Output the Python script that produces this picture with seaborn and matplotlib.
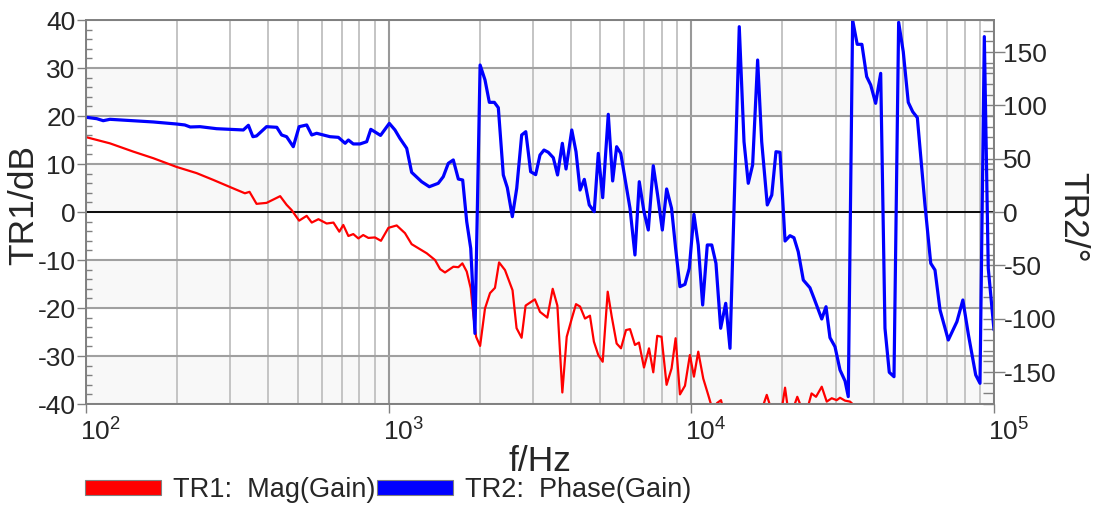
import pandas as pd
import matplotlib
matplotlib.use('Agg')
import matplotlib.pyplot as plt
import matplotlib.ticker as mticker
import matplotlib.transforms as mtrans
from matplotlib.patches import Patch
import seaborn as sns

# --- Data: TR1 magnitude (dB) ---
mag_freq = [100, 120, 143, 167, 199, 232, 263, 307, 335, 347, 366, 395, 438, 460, 478,
            506, 536, 557, 586, 624, 657, 687, 708, 736, 764, 794, 824, 857, 901, 943,
            998, 1063, 1132, 1191, 1336, 1423, 1479, 1535, 1636, 1699, 1752, 1811, 1867,
            1905, 1945, 2005, 2081, 2162, 2245, 2316, 2423, 2566, 2646, 2749, 2834, 3041,
            3162, 3343, 3483, 3609, 3748, 3875, 4027, 4159, 4289, 4453, 4624, 4765, 4927,
            5095, 5293, 5458, 5665, 5856, 6083, 6272, 6512, 6714, 6975, 7247, 7486, 7716,
            7971, 8284, 8604, 8873, 9170, 9527, 9890, 10200, 10540, 10950, 11370, 11790,
            12160, 12530, 12920, 14490, 16230, 17120, 17750, 18340, 19330, 19900, 20400,
            20850, 21330, 21830, 22390, 23030, 23550, 24270, 24960, 25820, 26970, 28010,
            29100, 30220, 30990, 32200, 33440, 34750, 38910, 100000]
mag_db = [15.6, 14.3, 12.6, 11.2, 9.4, 8.1, 6.7, 4.9, 3.9, 4.2, 1.7, 1.9, 3.3, 1.5, 0.4,
          -1.8, -0.8, -2.2, -1.5, -2.4, -2.2, -4.1, -2.7, -5.0, -4.6, -5.5, -4.8, -5.4, -5.3, -6.0,
          -3.3, -2.8, -4.4, -6.7, -8.6, -10.0, -11.9, -12.6, -11.4, -11.5, -10.7, -12.4, -15.9,
          -21.5, -26.0, -27.9, -20.1, -16.9, -15.8, -10.5, -12.1, -16.3, -24.2, -26.2, -19.5, -18.2,
          -20.8, -22.0, -16.0, -19.5, -37.6, -26.0, -22.2, -19.2, -19.7, -22.2, -21.6, -27.0, -29.8,
          -31.2, -16.6, -21.8, -27.4, -28.4, -24.6, -24.4, -27.7, -27.2, -32.4, -28.4, -33.4, -25.8,
          -26.0, -36.0, -32.6, -26.3, -38.0, -36.2, -29.8, -34.3, -29.1, -34.7, -38.1, -41.5,
          -39.8, -39.2, -42.5, -44.0, -44.0, -41.0, -38.1, -41.0, -43.0, -41.0, -36.6,
          -41.0, -41.5, -40.5, -38.5, -40.5, -40.8, -40.6, -37.8, -38.5, -36.4, -39.5,
          -38.8, -39.2, -38.7, -39.3, -39.5, -40.5, -45.0, -50.0]

# --- Data: TR2 phase (deg) ---
ph_freq = [100, 108.5, 114, 120, 143, 167, 199, 212, 221, 238, 270, 331, 344, 356, 366,
           395, 427, 443, 460, 484, 506, 536, 557, 578, 640, 682, 718, 736, 764, 804, 846,
           873, 940, 1005, 1049, 1089, 1147, 1191, 1285, 1362, 1458, 1515, 1574, 1635, 1699,
           1756, 1811, 1867, 1928, 2005, 2081, 2151, 2234, 2303, 2392, 2466, 2562, 2649, 2751,
           2838, 2945, 3060, 3162, 3260, 3367, 3499, 3614, 3748, 3855, 4027, 4159, 4289, 4430,
           4600, 4777, 4927, 5095, 5316, 5496, 5665, 5845, 6272, 6512, 6730, 6975, 7208, 7486,
           7737, 8020, 8287, 8604, 8873, 9170, 9527, 9844, 10200, 10540, 10900, 11290, 11680,
           12060, 12500, 12990, 13420, 14400, 14930, 15420, 15940, 16560, 17080, 17820, 18440,
           19040, 19630, 20400, 21180, 21830, 22550, 23440, 24650, 25430, 26970, 27860, 28710,
           29830, 30990, 32200, 33000, 34110, 35320, 36600, 37960, 39140, 40640, 42230, 43630,
           45080, 46730, 48410, 50140, 52090, 53880, 55810, 59150, 61800, 63830, 66330, 70630,
           75420, 78910, 82340, 87010, 89890, 92900, 95720, 100000]
ph_deg = [88.8, 87.5, 85.6, 86.9, 85.6, 84.4, 82.5, 81.6, 79.7, 80.0, 78.1, 76.9, 81.3, 70.6, 71.3,
          80.0, 79.4, 72.2, 70.6, 61.2, 80.0, 81.6, 72.2, 73.8, 70.6, 70.0, 64.4, 67.5, 63.8, 63.8, 65.9,
          77.5, 71.8, 83.1, 76.9, 69.1, 59.7, 37.2, 28.4, 23.7, 26.9, 33.1, 45.6, 48.8, 30.9,
          30.0, -9.1, -34.1, -113.8, 137.8, 123.8, 102.8, 102.8, 97.8, 34.7, 22.8, -4.4, 22.2, 72.2,
          75.3, 37.8, 35.0, 53.4, 58.1, 56.0, 50.9, 34.7, 64.4, 40.3, 76.9, 56.5, 20.6, 30.6,
          6.6, 0.3, 55.0, 13.4, 91.6, 29.1, 61.2, 55.0, 3.4, -40.3, 28.4, 0.3, -16.9, 43.4,
          15.9, -16.9, 21.6, 3.4, -34.1, -70.0, -67.8, -52.8, -2.2, -31.0, -87.2, -30.9, -30.9,
          -48.1, -109.0, -85.6, -127.8, 173.7, 65.9, 26.9, 44.1, 142.5, 65.9, 6.6, 15.9,
          56.5, 56.0, -27.2, -22.2, -24.1, -37.2, -63.8, -71.0, -80.9, -100.3, -88.8, -117.8,
          -126.3, -148.1, -158.4, -173.1, 180.0, 157.2, 157.2, 126.9, 119.1, 101.9, 130.0, -109.0,
          -150.3, -154.4, 177.8, 150.3, 102.8, 94.0, 88.4, 6.6, -48.1, -54.4, -91.9, -120.0,
          -102.8, -82.5, -115.3, -152.8, -160.6, 164.4, -52.8, -110.6]

mag_df = pd.DataFrame({'f': mag_freq, 'dB': mag_db})
ph_df = pd.DataFrame({'f': ph_freq, 'deg': ph_deg})

# --- Style ---
sns.set_style('white')
plt.rcParams['font.family'] = ['Liberation Sans', 'DejaVu Sans']
plt.rcParams['mathtext.fontset'] = 'custom'
plt.rcParams['mathtext.rm'] = 'Liberation Sans'
plt.rcParams['mathtext.it'] = 'Liberation Sans:italic'
plt.rcParams['axes.unicode_minus'] = False

GRAY = '#808080'
fig = plt.figure(figsize=(10.96, 5.13), dpi=100)
ax = fig.add_axes([86 / 1096, 1 - 404 / 513, 908 / 1096, 384 / 513])
ax.set_xscale('log')
ax2 = ax.twinx()

# alternating background bands
for lo in (-40, -20, 0, 20):
    ax.axhspan(lo, lo + 10, color='#f8f8f8', lw=0, zorder=0)

sns.lineplot(data=mag_df, x='f', y='dB', ax=ax, color='#ff0000', linewidth=1.6,
             sort=False, estimator=None)
sns.lineplot(data=ph_df, x='f', y='deg', ax=ax2, color='#0000ff', linewidth=2.3,
             sort=False, estimator=None)

ax.set_xlim(100, 1e5)
ax.set_ylim(-40, 40)
ax2.set_ylim(-180, 180)

ax.set_axisbelow(True)
ax.xaxis.set_minor_locator(mticker.LogLocator(base=10, subs=range(2, 10)))
ax.grid(which='major', axis='x', color='#999999', lw=1.5)
ax.grid(which='minor', axis='x', color='#c4c4c4', lw=1.4)
ax.grid(which='major', axis='y', color='#a0a0a0', lw=1.5)
ax.axhline(0, color='black', lw=1.3, zorder=1)

ax.yaxis.set_major_locator(mticker.MultipleLocator(10))
ax.yaxis.set_minor_locator(mticker.MultipleLocator(2))
ax2.yaxis.set_major_locator(mticker.MultipleLocator(50))
ax2.yaxis.set_minor_locator(mticker.MultipleLocator(10))
ax2.grid(False)

ax.tick_params(axis='y', which='major', direction='out', length=6.5, width=1,
               color=GRAY, labelsize=19, pad=1, left=True)
ax.tick_params(axis='y', which='minor', direction='in', length=4, width=1, color=GRAY, left=True)
ax.tick_params(axis='x', which='major', direction='out', length=6.5, width=1,
               color=GRAY, labelsize=19, pad=4, bottom=True)
ax.tick_params(axis='x', which='minor', length=0)
ax2.tick_params(axis='y', which='major', direction='inout', length=16.5, width=1,
                color=GRAY, labelsize=19, pad=-1.5, right=True)
ax2.tick_params(axis='y', which='minor', direction='in', length=8, width=1, color=GRAY, right=True)

for a in (ax, ax2):
    for s in a.spines.values():
        s.set_color(GRAY)
        s.set_linewidth(1.2)
        s.set_visible(True)

# decade labels start just left of their tick
offset = mtrans.ScaledTranslation(-6 / 100, 0, fig.dpi_scale_trans)
for lab in ax.get_xticklabels():
    lab.set_ha('left')
    lab.set_transform(lab.get_transform() + offset)

ax.set_xlabel('f/Hz', fontsize=25.5, va='center')
ax.xaxis.set_label_coords(0.5, -0.151)
ax.set_ylabel('TR1/dB', fontsize=25.5, va='center')
ax.yaxis.set_label_coords(-0.0683, 0.518)
ax2.set_ylabel('TR2/°', fontsize=25.5, rotation=270, va='center')
ax2.yaxis.set_label_coords(1.087, 0.487)

handles = [Patch(facecolor='#ff0000', edgecolor=GRAY, lw=0.8, label='TR1:  Mag(Gain)'),
           Patch(facecolor='#0000ff', edgecolor=GRAY, lw=0.8, label='TR2:  Phase(Gain)')]
fig.legend(handles=handles, loc='center left', bbox_to_anchor=(85 / 1096, 1 - 490 / 513),
           ncol=2, frameon=False, fontsize=19.5, handlelength=2.81, handleheight=0.52,
           handletextpad=0.44, columnspacing=0.07, borderpad=0, borderaxespad=0)

fig.savefig('out.png', dpi=100)
